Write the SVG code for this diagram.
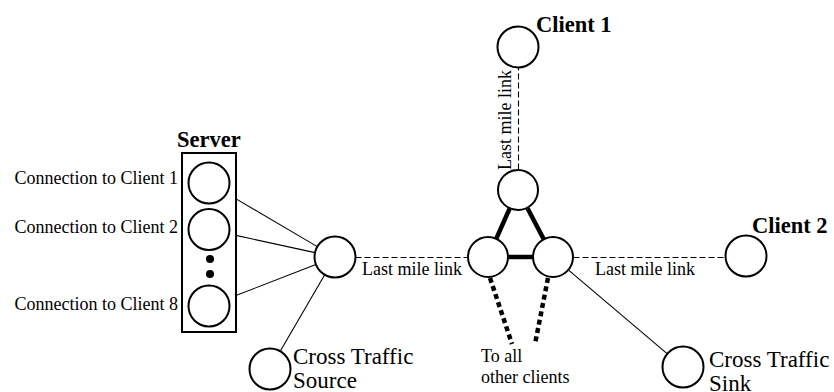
<svg xmlns="http://www.w3.org/2000/svg" width="834" height="392" viewBox="0 0 834 392">
  <style>
    .node { fill: #fff; stroke: #000; stroke-width: 2; }
    .thin { stroke: #000; stroke-width: 1.1; fill: none; }
    .dash { stroke: #000; stroke-width: 1.1; stroke-dasharray: 6 3; fill: none; }
    .thick { stroke: #000; stroke-width: 4.5; fill: none; }
    .dots { stroke: #000; stroke-width: 4.5; stroke-dasharray: 5 3.5; fill: none; }
    text { font-family: "Liberation Serif", "Times New Roman", serif; fill: #000; }
    .lbl { font-size: 18px; }
    .big { font-size: 23px; }
    .bold { font-size: 22.5px; font-weight: bold; }
  </style>

  <!-- connectors -->
  <g id="connectors">
    <line class="thin" x1="226.7" y1="193.4" x2="317.3" y2="246.6"/>
    <line class="thin" x1="229" y1="233.9" x2="315" y2="252.6"/>
    <line class="thin" x1="228.1" y1="298.6" x2="315.9" y2="264.4"/>
    <line class="thin" x1="324.7" y1="274.7" x2="280.5" y2="350.8"/>
    <line class="dash" x1="355.5" y1="257.5" x2="467.5" y2="257.5"/>
    <line class="dash" x1="573.5" y1="257.5" x2="725.5" y2="257.5"/>
    <line class="thin" x1="568.6" y1="270.2" x2="667.4" y2="353.8"/>
    <line class="dash" x1="518.5" y1="169.5" x2="518.5" y2="67.5"/>
    <line class="thick" x1="509.6" y1="208.7" x2="496.4" y2="238.3"/>
    <line class="thick" x1="527.5" y1="208.2" x2="543.5" y2="238.8"/>
    <line class="thick" x1="508.5" y1="257" x2="532.5" y2="257"/>
    <line class="dots" x1="490" y1="278" x2="512" y2="344"/>
    <line class="dots" x1="548" y1="278" x2="535" y2="344"/>
  </g>

  <!-- server with its per-client connections -->
  <g id="server">
    <rect x="182" y="153" width="54" height="179" fill="#fff" stroke="#000" stroke-width="2"/>
    <text class="bold" x="177" y="147">Server</text>
    <circle class="node" cx="209" cy="183" r="20.5"/>
    <circle class="node" cx="209" cy="229.5" r="20.5"/>
    <circle cx="210" cy="259" r="4"/>
    <circle cx="210" cy="274" r="4"/>
    <circle class="node" cx="209" cy="306" r="20.5"/>
    <text class="lbl" x="178" y="184" text-anchor="end">Connection to Client 1</text>
    <text class="lbl" x="178" y="233" text-anchor="end">Connection to Client 2</text>
    <text class="lbl" x="178" y="310" text-anchor="end">Connection to Client 8</text>
  </g>

  <g id="hub">
    <circle class="node" cx="335" cy="257" r="20.5"/>
  </g>

  <g id="cross-traffic-source">
    <circle class="node" cx="270" cy="369" r="20.5"/>
    <text class="big" x="293" y="364">Cross Traffic</text>
    <text class="big" x="293" y="388">Source</text>
  </g>

  <g id="core-top">
    <circle class="node" cx="518" cy="190" r="20"/>
  </g>
  <g id="core-left">
    <circle class="node" cx="488" cy="257" r="20"/>
  </g>
  <g id="core-right">
    <circle class="node" cx="553" cy="257" r="20"/>
  </g>

  <g id="client1">
    <circle class="node" cx="518" cy="47" r="20.5"/>
    <text class="bold" x="536" y="32">Client 1</text>
  </g>

  <g id="client2">
    <circle class="node" cx="746" cy="256" r="20.5"/>
    <text class="bold" x="752" y="233">Client 2</text>
  </g>

  <g id="cross-traffic-sink">
    <circle class="node" cx="683" cy="367" r="20.5"/>
    <text class="big" x="709" y="367">Cross Traffic</text>
    <text class="big" x="709" y="391">Sink</text>
  </g>

  <!-- link labels -->
  <g id="labels">
    <text class="lbl" x="362" y="275">Last mile link</text>
    <text class="lbl" x="595" y="275">Last mile link</text>
    <text class="lbl" transform="translate(511 170) rotate(-90)">Last mile link</text>
    <text class="lbl" x="481" y="362">To all</text>
    <text class="lbl" x="481" y="383">other clients</text>
  </g>
</svg>
